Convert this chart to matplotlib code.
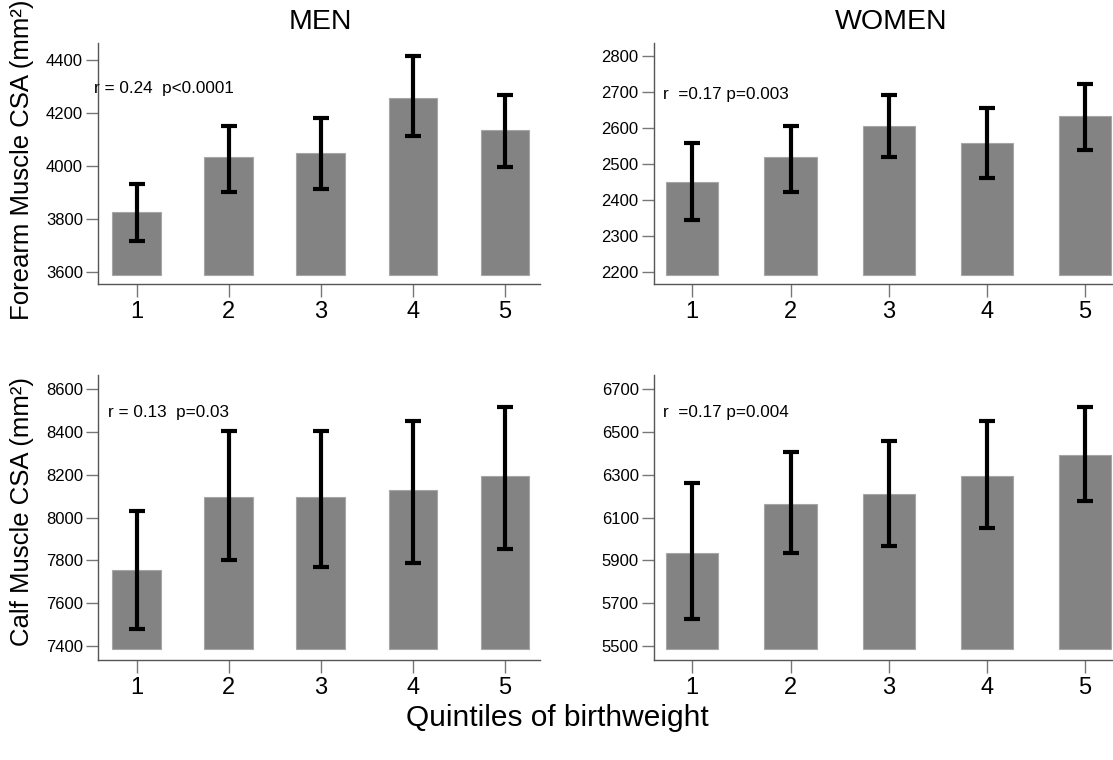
import matplotlib
matplotlib.use("Agg")
import matplotlib.pyplot as plt

plt.rcParams['font.family'] = ['Liberation Sans', 'DejaVu Sans']

quintiles = [1, 2, 3, 4, 5]

# forearm muscle CSA (mm2): mean, lower and upper end of error bar
men_forearm = [3825, 4034, 4047, 4256, 4137]
men_forearm_lo = [3717, 3902, 3914, 4114, 3994]
men_forearm_hi = [3931, 4151, 4181, 4417, 4269]
women_forearm = [2451, 2520, 2606, 2558, 2634]
women_forearm_lo = [2344, 2422, 2519, 2461, 2539]
women_forearm_hi = [2558, 2606, 2693, 2655, 2723]

# calf muscle CSA (mm2)
men_calf = [7755, 8098, 8098, 8128, 8193]
men_calf_lo = [7478, 7803, 7771, 7789, 7852]
men_calf_hi = [8031, 8405, 8405, 8452, 8519]
women_calf = [5936, 6162, 6211, 6293, 6392]
women_calf_lo = [5628, 5936, 5969, 6050, 6179]
women_calf_hi = [6261, 6407, 6457, 6553, 6619]

men_forearm_ticks = [3600, 3800, 4000, 4200, 4400]
women_forearm_ticks = [2200, 2300, 2400, 2500, 2600, 2700, 2800]
men_calf_ticks = [7400, 7600, 7800, 8000, 8200, 8400, 8600]
women_calf_ticks = [5500, 5700, 5900, 6100, 6300, 6500, 6700]

notes = ["r = 0.24  p<0.0001", "r  =0.17 p=0.003", "r = 0.13  p=0.03", "r  =0.17 p=0.004"]


def panel(rect, means, lo, hi, ticks, ylim, base, xlim, note, note_xy):
    ax = fig.add_axes(rect)
    heights = [m - base for m in means]
    ax.bar(quintiles, heights, width=0.53, bottom=base, color='#838383',
           edgecolor='#a6a6a6', linewidth=0.8, zorder=2)
    err = [[m - l for m, l in zip(means, lo)], [h - m for m, h in zip(means, hi)]]
    ax.errorbar(quintiles, means, yerr=err, fmt='none', ecolor='black',
                elinewidth=3, capsize=6, capthick=3, zorder=3)
    ax.set_xlim(*xlim)
    ax.set_ylim(*ylim)
    ax.set_xticks(quintiles)
    ax.set_yticks(ticks)
    for s in ['top', 'right']:
        ax.spines[s].set_visible(False)
    for s in ['left', 'bottom']:
        ax.spines[s].set_color('#555555')
        ax.spines[s].set_linewidth(1.0)
    ax.tick_params(axis='x', length=9, width=1, color='#777777', labelsize=17, pad=3)
    ax.tick_params(axis='y', length=9, width=1, color='#777777', labelsize=12, pad=2)
    ax.text(note_xy[0], note_xy[1], note, transform=ax.transAxes, fontsize=12.3,
            ha='left', va='center')
    return ax


fig = plt.figure(figsize=(11.13, 7.6), dpi=100)

men_x = (0.583, 5.38)
women_x = (0.61, 5.38)
panel([0.0883, 0.6259, 0.3969, 0.3175], men_forearm, men_forearm_lo, men_forearm_hi,
      men_forearm_ticks, (3552, 4465), 3588, men_x, notes[0], (-0.01, 0.813))
panel([0.5876, 0.6259, 0.4209, 0.3175], women_forearm, women_forearm_lo, women_forearm_hi,
      women_forearm_ticks, (2165, 2837), 2191, women_x, notes[1], (0.019, 0.785))
panel([0.0883, 0.1316, 0.3969, 0.375], men_calf, men_calf_lo, men_calf_hi,
      men_calf_ticks, (7335, 8667), 7385, men_x, notes[2], (0.022, 0.867))
panel([0.5876, 0.1316, 0.4209, 0.375], women_calf, women_calf_lo, women_calf_hi,
      women_calf_ticks, (5435, 6767), 5485, women_x, notes[3], (0.019, 0.867))

fig.text(320 / 1113, 1 - 22 / 760, "MEN", fontsize=20.5, ha='center', va='center')
fig.text(891 / 1113, 1 - 22 / 760, "WOMEN", fontsize=20.5, ha='center', va='center')
fig.text(22 / 1113, 1 - 160 / 760, "Forearm Muscle CSA (mm²)", fontsize=18.5,
         rotation=90, ha='center', va='center')
fig.text(22 / 1113, 1 - 511 / 760, "Calf Muscle CSA (mm²)", fontsize=18.5,
         rotation=90, ha='center', va='center')
fig.text(557 / 1113, 1 - 718 / 760, "Quintiles of birthweight", fontsize=21.5,
         ha='center', va='center')

fig.savefig("out.png", dpi=100)
